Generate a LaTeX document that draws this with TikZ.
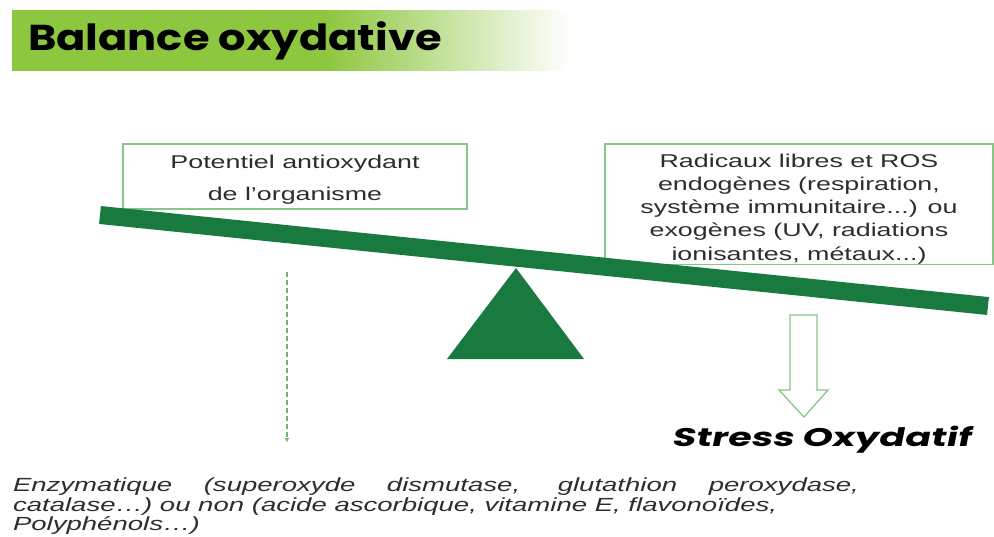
\documentclass[tikz,border=0pt]{standalone}
\usepackage{fontspec}
\setmainfont{Liberation Sans}
\newfontfamily\boxfont[FakeStretch=1.45]{Liberation Sans}
\newfontfamily\notefont[FakeStretch=1.45]{Liberation Sans}
\newfontfamily\titlefont[FakeStretch=1.2]{Poppins}
\newfontfamily\stressfont[FakeStretch=1.5,FakeSlant=0.2]{Poppins}
\usepackage{tikz}
\usetikzlibrary{arrows.meta}

\definecolor{beamgreen}{RGB}{24,122,62}
\definecolor{boxgreen}{RGB}{135,198,135}
\definecolor{bannergreen}{RGB}{141,198,63}
\definecolor{textgray}{RGB}{45,45,45}
\pgfdeclarehorizontalshading{bannerfade}{100bp}{color(0bp)=(bannergreen); color(25bp)=(bannergreen);
  color(53bp)=(bannergreen); color(75bp)=(white); color(100bp)=(white)}

\begin{document}
\begin{tikzpicture}[x=1pt, y=-1pt,
  every node/.style={inner sep=0pt, outer sep=0pt},
  sidebox/.style={draw=boxgreen, line width=1.3pt, align=center, text=textgray, anchor=north,
    font=\boxfont\fontsize{18.5}{23.3}\selectfont},
  beam/.style={draw=beamgreen, line width=18pt},
  hollowarrow/.style={draw=boxgreen, line width=1.3pt},
  dasharrow/.style={draw=boxgreen!90!black, line width=1.2pt, dash pattern=on 5pt off 3pt,
    -{Triangle[length=4pt,width=4pt]}}]
\useasboundingbox (0,0) rectangle (994,536);

% Heading
\shade[shading=bannerfade] (12,10) rectangle (570,70);
\node[font=\titlefont\bfseries\fontsize{36}{36}\selectfont, anchor=base west] (title) at (28,50)
  {Balance oxydative};

% Boxes
\node[
  sidebox,
  minimum width=344
  ] (antiox) at (295,144)
  {\rule{0pt}{24pt}Potentiel antioxydant\\[8.7pt]de l’organisme\rule[-9pt]{0pt}{9pt}};

\node[
  sidebox,
  minimum width=388
  ] (radicaux) at (799,144)
  {\rule{0pt}{23pt}Radicaux libres et ROS\\endogènes (respiration,\\système immunitaire...) ou\\
   exogènes (UV, radiations\\ionisantes, métaux...)\rule[-4pt]{0pt}{4pt}};

% Balance
\coordinate (beamleft) at (100,215);
\coordinate (beamright) at (988,306);
\coordinate (pivot) at (516,268);
\draw[beam] (beamleft) -- (beamright);
\fill[beamgreen] (pivot) -- (584,359) -- (447,359) -- cycle;

% Consequences
\node[font=\stressfont\bfseries\fontsize{25.5}{25.5}\selectfont, anchor=base] (stress) at (821,446)
  {Stress Oxydatif};

\node[
  anchor=north west,
  text width=846,
  align=justify,
  text=textgray,
  font=\notefont\itshape\fontsize{19}{19.5}\selectfont
  ] (enzym) at (13,478)
  {Enzymatique (superoxyde dismutase, glutathion peroxydase,\linebreak
   catalase…) ou non (acide ascorbique, vitamine E, flavonoïdes,\\
   Polyphénols…)};

% Arrows
\coordinate (dashtop) at (287,272);
\coordinate (dashend) at (287,442);
\draw[dasharrow] (dashtop) -- (dashend);

\draw[hollowarrow] (790,315) -- (817,315) -- (817,390) -- (828,390) -- (804,417)
  -- (779,390) -- (790,390) -- cycle;
\end{tikzpicture}
\end{document}
